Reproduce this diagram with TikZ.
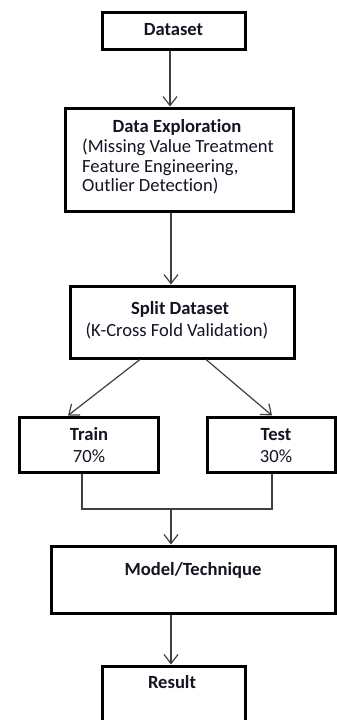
\documentclass[tikz,border=0pt]{standalone}
\usepackage{fontspec}
\setmainfont{Carlito}[Ligatures={NoCommon}]
\usetikzlibrary{arrows.meta}
\definecolor{lineg}{RGB}{64,64,64}
\definecolor{txt}{RGB}{20,20,35}
\begin{document}
\begin{tikzpicture}[x=1pt,y=-1pt,
  box/.style={draw=black, line width=3pt, rectangle, inner sep=0pt},
  lbl/.style={text=txt, inner sep=0pt, anchor=base, font=\fontsize{18.6}{20}\selectfont},
  ttl/.style={lbl, font=\fontsize{18.6}{20}\selectfont\bfseries},
  conn/.style={draw=lineg, line width=1.2pt},
  arr/.style={conn, -{Straight Barb[length=9pt,width=14pt]}}
]
\path[use as bounding box, fill=white] (0,0) rectangle (337,720);

% boxes
\node[box, minimum width=143, minimum height=37] (ds) at (173.5,30.5) {};
\node[box, minimum width=228, minimum height=103] (de) at (179,159.5) {};
\node[box, minimum width=224, minimum height=72] (sd) at (182,322) {};
\node[box, minimum width=139, minimum height=55] (tr) at (88.5,444.5) {};
\node[box, minimum width=128, minimum height=55] (te) at (271,444.5) {};
\node[box, minimum width=284, minimum height=67] (mt) at (193,579.5) {};
\node[box, minimum width=143, minimum height=74] (rs) at (173.5,703) {};

% texts
\node[ttl] (tds) at (173.5,35) {Dataset};
\node[ttl] (tde) at (177,132) {Data Exploration};
\node[lbl, anchor=base west] (tde1) at (82,152) {(Missing Value Treatment};
\node[lbl, anchor=base west] (tde2) at (82,172) {Feature Engineering,};
\node[lbl, anchor=base west] (tde3) at (82,191) {Outlier Detection)};
\node[ttl] (tsd) at (180,314) {Split Dataset};
\node[lbl] (tsd1) at (177,336) {(K-Cross Fold Validation)};
\node[ttl] (ttr) at (89,440) {Train};
\node[lbl] (ttr1) at (89,462) {70\%};
\node[ttl] (tte) at (276,440) {Test};
\node[lbl] (tte1) at (276,462) {30\%};
\node[ttl] (tmt) at (193,575) {Model/Technique};
\node[ttl] (trs) at (172,688) {Result};

% connectors
\draw[arr] ([xshift=-3.5pt]ds.south) -- ([xshift=-9pt]de.north);
\draw[arr] ([xshift=-8pt]de.south) -- ([xshift=-11pt]sd.north);
\draw[arr] ([xshift=-42pt]sd.south) -- ([xshift=-20.5pt]tr.north);
\draw[arr] ([xshift=24pt]sd.south) -- ([xshift=1pt]te.north);
\coordinate (jn) at (171,509);
\draw[conn] ([xshift=-6.5pt]tr.south) |- (jn) -| ([xshift=1pt]te.south);
\draw[arr] (jn) -- ([xshift=-22pt]mt.north);
\draw[arr] ([xshift=-22pt]mt.south) -- ([xshift=-2.5pt]rs.north);
\end{tikzpicture}
\end{document}
